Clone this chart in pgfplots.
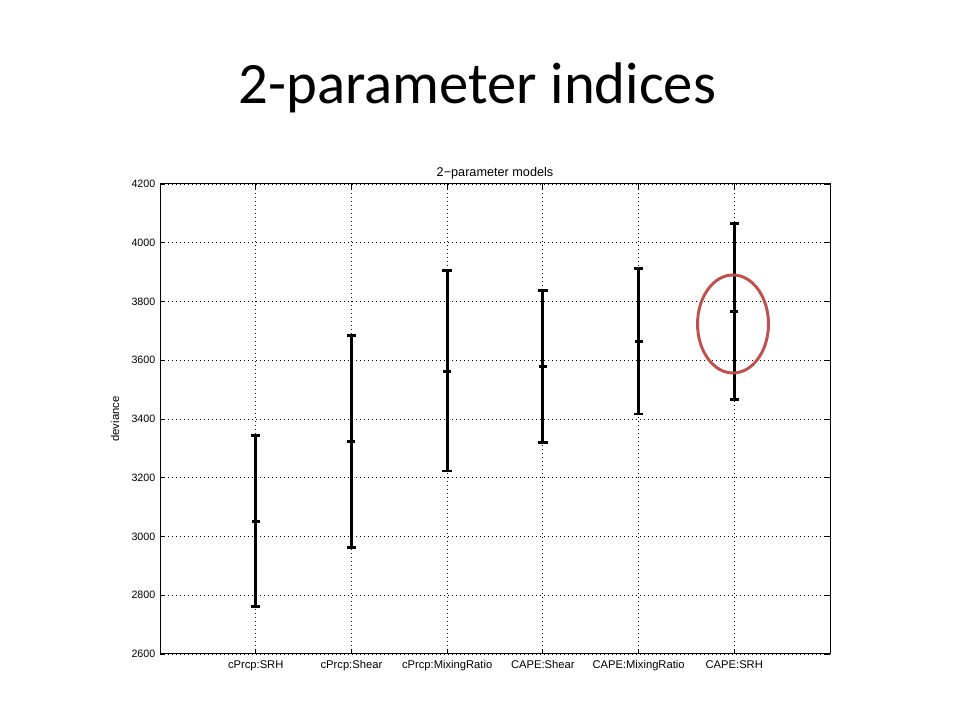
\documentclass[border=0pt]{standalone}
\usepackage{fontspec}
\usepackage{pgfplots}
\pgfplotsset{compat=1.18}
\setmainfont{Liberation Sans}
\newfontfamily\carlito{Carlito}
\newfontfamily\axfont{Liberation Sans}
\definecolor{pptred}{RGB}{192,80,77}
\begin{document}
\begin{tikzpicture}
\path[use as bounding box, fill=white] (0pt,0pt) rectangle (720pt,540pt);
\node[font=\carlito\fontsize{44}{50}\selectfont, anchor=base] at (358.1pt,462pt) {2-parameter indices};
\begin{axis}[
  at={(120pt,49.5pt)}, anchor=south west,
  width=502.5pt, height=352.5pt, scale only axis,
  xmin=0, xmax=7, ymin=2600, ymax=4200,
  xtick={1,2,3,4,5,6},
  xticklabels={cPrcp:SRH,cPrcp:Shear,cPrcp:MixingRatio,CAPE:Shear,CAPE:MixingRatio,CAPE:SRH},
  ytick={2600,2800,3000,3200,3400,3600,3800,4000,4200},
  /pgf/number format/assume math mode=true,
  /pgf/number format/1000 sep={},
  tick label style={font=\axfont\fontsize{8}{9}\selectfont},
  xticklabel style={font=\axfont\fontsize{8.4}{9}\selectfont, text height=6pt, text depth=1.5pt, yshift=-1pt},
  tick align=inside, major tick length=3.75pt,
  axis line style={line width=0.75pt},
  every tick/.style={black, line width=0.6pt},
  grid=major, grid style={black, line width=0.6pt, dash pattern=on 0.75pt off 2.25pt},
  title={2−parameter models},
  title style={font=\axfont\fontsize{9.5}{10}\selectfont, at={(axis description cs:0.5,1)}, anchor=south, yshift=-6pt},
  ylabel={deviance},
  ylabel style={font=\axfont\fontsize{8.5}{9}\selectfont, at={(axis description cs:0,0.5)}, anchor=center, yshift=33.75pt},
]
\addplot[black, only marks, mark=-, mark size=3pt, mark options={line width=2pt},
  error bars/.cd, y dir=both, y explicit,
  error bar style={line width=2.3pt, black},
  error mark options={rotate=90, line width=2.2pt, mark size=3.5pt, black}]
  coordinates {
  (1,3052) += (0,292) -= (0,289)
  (2,3324) += (0,359) -= (0,363)
  (3,3562) += (0,344) -= (0,339)
  (4,3579) += (0,259) -= (0,258)
  (5,3664) += (0,249) -= (0,247)
  (6,3766) += (0,300) -= (0,299)
  };
\end{axis}
\draw[pptred, line width=2.2pt] (549.75pt,297pt) ellipse [x radius=26.6pt, y radius=36.75pt];
\end{tikzpicture}
\end{document}
